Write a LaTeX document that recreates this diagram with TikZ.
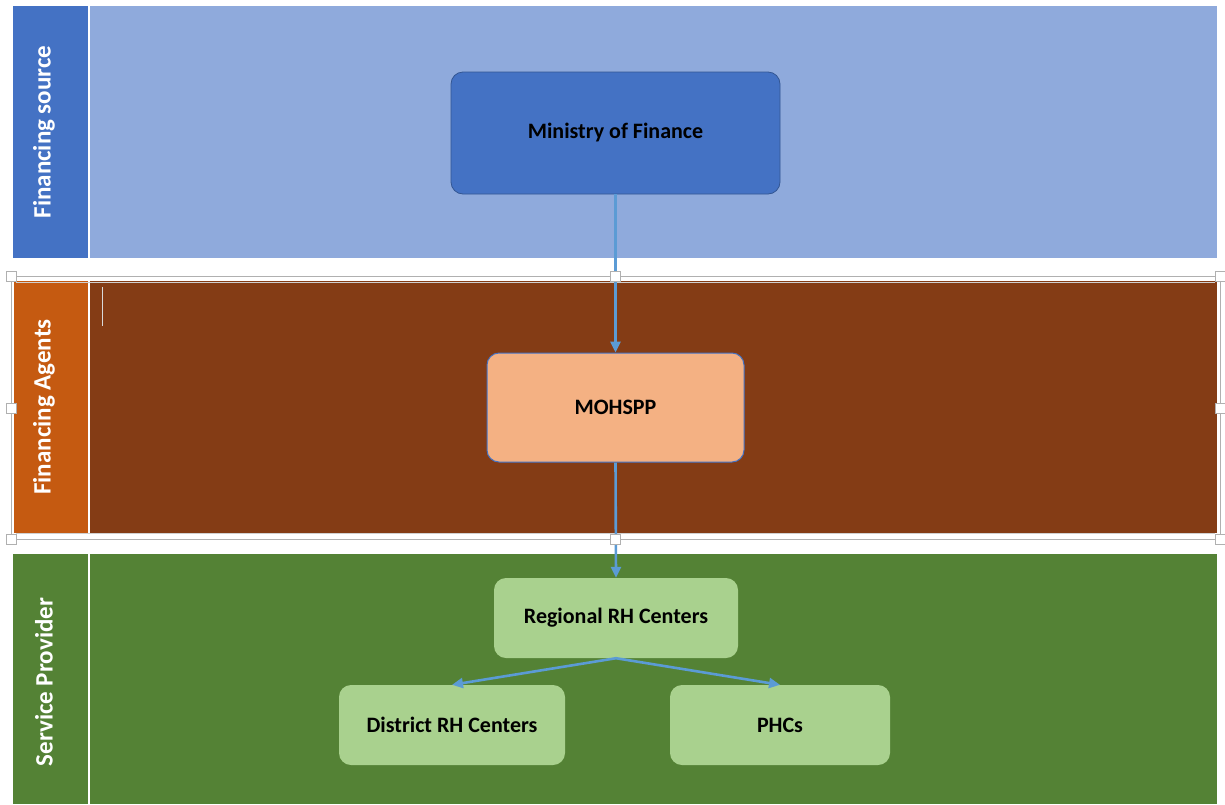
\documentclass[tikz,border=0pt]{standalone}
\usepackage{fontspec}
\setmainfont{Carlito}
\usetikzlibrary{arrows.meta}
\definecolor{lblblue}{HTML}{4472C4}
\definecolor{bgblue}{HTML}{8FAADC}
\definecolor{lblorange}{HTML}{C55A11}
\definecolor{bgbrown}{HTML}{843C15}
\definecolor{bggreen}{HTML}{548235}
\definecolor{boxblue}{HTML}{4472C4}
\definecolor{boxpeach}{HTML}{F4B183}
\definecolor{boxgreen}{HTML}{A9D18E}
\definecolor{arrowblue}{HTML}{5B9BD5}
\definecolor{framegray}{HTML}{B0B0B0}
\tikzset{
  bandlabel/.style={rotate=90, text=white, font=\fontsize{25}{28}\selectfont\bfseries, inner sep=0pt},
  box/.style={rounded corners=12pt, font=\fontsize{22}{26}\selectfont\bfseries, text=black, inner sep=0pt},
  flow/.style={draw=arrowblue, line width=2.6pt, -{Triangle[length=11pt,width=10pt]}},
  handle/.style={draw=framegray, fill=white, line width=0.8pt, minimum size=10pt, inner sep=0pt}
}
\begin{document}
\begin{tikzpicture}[x=1pt,y=-1pt]
\useasboundingbox (0,0) rectangle (1225,804);
\fill[white] (0,0) rectangle (1225,804);
% top band
\fill[bgblue] (13,6) rectangle (1217,258);
\fill[lblblue] (13,6) rectangle (88,258);
\draw[white, line width=1.5pt] (89,6) -- (89,258);
% middle band
\fill[bgbrown] (14,281) rectangle (1217,533);
\fill[lblorange] (14,281) rectangle (88,533);
\draw[white, line width=1.5pt] (89,281) -- (89,533);
\draw[white!85!black, line width=0.8pt] (102,287) -- (102,326);
% bottom band
\fill[bggreen] (13,554) rectangle (1217,804);
\draw[white, line width=1.5pt] (89,554) -- (89,804);
% selection frame
\draw[framegray, line width=0.8pt] (11,276) rectangle (1220,539);
\draw[framegray!60, line width=0.6pt] (16,282) -- (1215,282);
\draw[framegray!60, line width=0.6pt] (16,533) -- (1215,533);
% labels
\node[bandlabel] (l1) at (44,132) {Financing source};
\node[bandlabel] (l2) at (44,407) {Financing Agents};
\node[bandlabel] (l3) at (44,682) {Service Provider};
% boxes
\node[box, draw=lblblue!75!black, line width=0.8pt, fill=boxblue, minimum width=329pt, minimum height=122pt] (mof) at (615.5,133) {Ministry of Finance};
\node[box, draw=lblblue, line width=1pt, fill=boxpeach, minimum width=257pt, minimum height=109pt] (moh) at (615.5,407.5) {MOHSPP};
\node[box, fill=boxgreen, minimum width=244pt, minimum height=80pt] (reg) at (616,618) {Regional RH Centers};
\node[box, fill=boxgreen, minimum width=226pt, minimum height=80pt] (dist) at (452,725) {District RH Centers};
\node[box, fill=boxgreen, minimum width=220pt, minimum height=80pt] (phc) at (780,725) {PHCs};
% arrows
\draw[flow] (mof.south) -- (moh.north);
\draw[flow] (moh.south) -- (reg.north);
\draw[flow] (reg.south) -- (dist.north);
\draw[flow] (reg.south) -- (phc.north);
% handles
\node[handle] (h1) at (11,276) {};
\node[handle] (h2) at (615,276) {};
\node[handle] (h3) at (1220,276) {};
\node[handle] (h4) at (11,408) {};
\node[handle] (h5) at (1220,408) {};
\node[handle] (h6) at (11,539) {};
\node[handle] (h7) at (615,539) {};
\node[handle] (h8) at (1220,539) {};
\end{tikzpicture}
\end{document}
